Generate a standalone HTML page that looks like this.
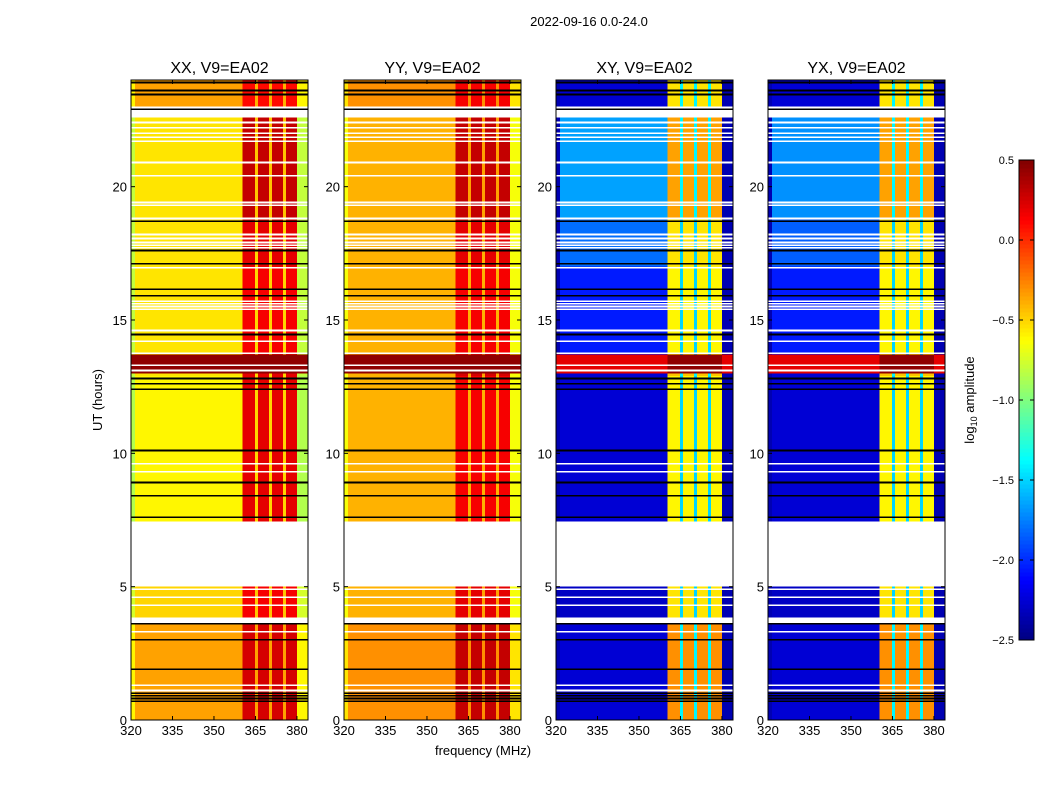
<!DOCTYPE html>
<html><head><meta charset="utf-8"><style>
body{margin:0;background:#fff;}
svg text{font-family:"Liberation Sans",sans-serif;fill:#000;}
</style></head><body>
<svg id="fig" width="1050" height="800" xmlns="http://www.w3.org/2000/svg">
<text x="589" y="26" font-size="13" text-anchor="middle">2022-09-16 0.0-24.0</text>
<text x="102" y="400" font-size="13" text-anchor="middle" transform="rotate(-90 102 400)">UT (hours)</text>
<text x="483" y="755" font-size="13" text-anchor="middle">frequency (MHz)</text>
<g id="panels"></g>
<g id="cbar"></g>
<text x="974" y="400" font-size="13" text-anchor="middle" transform="rotate(-90 974 400)">log<tspan font-size="9" dy="3">10</tspan><tspan dy="-3"> amplitude</tspan></text>
</svg>
<script>
const panelTitles=["XX, V9=EA02","YY, V9=EA02","XY, V9=EA02","YX, V9=EA02"];
const xTicks=[320,335,350,365,380];
const yTicks=[0,5,10,15,20];
const cbTicks=[0.5,0.0,-0.5,-1.0,-1.5,-2.0,-2.5];
const freqEdges=[320,321.5,360.4,364.8,365.9,369.9,371,375,376,380,384];
const colType=['edge','bg','band','gap','band','gap','band','gap','band','edge'];
const timeEdges=[0,3.6,3.85,5.0,7.45,12.9,13.0,13.7,17.0,18.8,22.6,23.0,24];
const bgXX=[-0.35,null,-0.5,null,-0.6,-0.55,0.45,-0.55,-0.55,-0.55,null,-0.35];
const bandXX=[0.25,null,0.15,null,0.2,0.2,0.45,0.15,0.2,0.3,null,0.1];
const gapXX=[-0.35,null,-0.45,null,-0.5,-0.5,0.45,-0.5,-0.5,-0.45,null,-0.4];
const bgYY=[-0.3,null,-0.4,null,-0.4,-0.4,0.45,-0.4,-0.4,-0.4,null,-0.3];
const bandYY=[0.3,null,0.2,null,0.15,0.25,0.45,0.15,0.2,0.3,null,0.15];
const gapYY=[-0.3,null,-0.35,null,-0.4,-0.35,0.45,-0.4,-0.4,-0.35,null,-0.3];
const bgXY=[-2.25,null,-2.3,null,-2.25,-2.25,0.2,-2.05,-1.8,-1.65,null,-2.25];
const bandXY=[-0.3,null,-0.55,null,-0.6,-0.45,0.45,-0.6,-0.55,-0.35,null,-0.55];
const gapXY=[-1.4,null,-1.5,null,-1.5,-1.4,0.45,-1.5,-1.5,-1.4,null,-1.4];
const bgYX=[-2.25,null,-2.3,null,-2.25,-2.25,0.2,-2.05,-1.85,-1.7,null,-2.25];
const bandYX=[-0.3,null,-0.55,null,-0.6,-0.45,0.45,-0.6,-0.55,-0.35,null,-0.55];
const gapYX=[-1.4,null,-1.5,null,-1.5,-1.4,0.45,-1.5,-1.5,-1.4,null,-1.4];
const whiteRows=[22.4,22.2,22.0,21.85,21.7,20.9,20.4,19.4,19.3,18.8,18.2,18.05,17.9,17.8,17.7,17.1,16.95,15.7,15.6,15.5,15.4,14.6,14.2,13.75,13.3,13.1,9.6,9.3,4.9,4.6,4.3,3.8,3.3,1.3,1.1];
const blackRows=[23.9,23.6,23.45,22.9,18.7,17.6,17.1,16.15,15.9,14.45,12.8,12.6,12.4,10.1,8.9,8.4,7.6,3.6,3.0,1.9,1.0,0.9,0.8,0.7];
const panelData=[[bgXX,bandXX,gapXX],[bgYY,bandYY,gapYY],[bgXY,bandXY,gapXY],[bgYX,bandYX,gapYX]];
const panelX=[131,344,556,768];
const PW=177,PT=80,PB=720;
const NS='http://www.w3.org/2000/svg';
function jet(v){
  let t=(v+2.5)/3; t=Math.max(0,Math.min(1,t));
  const f=(x)=>Math.max(0,Math.min(1,1.5-Math.abs(4*t-x)));
  return `rgb(${Math.round(255*f(3))},${Math.round(255*f(2))},${Math.round(255*f(1))})`;
}
function mk(tag,attrs,parent){const e=document.createElementNS(NS,tag);for(const k in attrs)e.setAttribute(k,attrs[k]);parent.appendChild(e);return e;}
const yS=(h)=>PB-(h/24)*(PB-PT);
const panels=document.getElementById('panels');
panelX.forEach((x0,p)=>{
  const xS=(f)=>x0+(f-320)/64*PW;
  const g=mk('g',{'shape-rendering':'crispEdges'},panels);
  
  
  const [bg,band,gap]=panelData[p];
  for(let s=0;s<timeEdges.length-1;s++){
    if(bg[s]===null)continue;
    for(let c=0;c<colType.length;c++){
      let v=colType[c]==='band'?band[s]:colType[c]==='gap'?gap[s]:bg[s];
      if(colType[c]==='edge'&&s!==6) v=p<2?bg[s]-0.25:-2.35;
      const r=mk('rect',{x:xS(freqEdges[c]),y:yS(timeEdges[s+1]),width:xS(freqEdges[c+1])-xS(freqEdges[c]),height:yS(timeEdges[s])-yS(timeEdges[s+1]),fill:jet(v)},g);
      
      
    }
  }
  whiteRows.forEach(h=>{const l=mk('rect',{x:x0,y:yS(h)-1,width:PW,height:1.6,fill:'#fff'},g);
    
    });
  blackRows.forEach(h=>{const l=mk('rect',{x:x0,y:yS(h)-1,width:PW,height:1.6,fill:'#000'},g);
    
    });
  const fr=mk('rect',{x:x0,y:PT,width:PW,height:PB-PT,fill:'none',stroke:'#000','stroke-width':1},g);
  
  
  const t=mk('text',{x:x0+PW/2,y:PT-7,'font-size':16,'text-anchor':'middle'},panels);
  t.textContent=panelTitles[p];
  
  
  xTicks.forEach(f=>{const tx=mk('text',{x:xS(f),y:PB+15,'font-size':13,'text-anchor':'middle'},panels);tx.textContent=f;
    
    
    mk('line',{x1:xS(f),x2:xS(f),y1:PB,y2:PB-4,stroke:'#000'},panels);
    mk('line',{x1:xS(f),x2:xS(f),y1:PT,y2:PT+4,stroke:'#000'},panels);});
  yTicks.forEach(h=>{const ty=mk('text',{x:x0-4,y:yS(h)+5,'font-size':13,'text-anchor':'end'},panels);ty.textContent=h;
    
    
    mk('line',{x1:x0,x2:x0+4,y1:yS(h),y2:yS(h),stroke:'#000'},panels);
    mk('line',{x1:x0+PW,x2:x0+PW-4,y1:yS(h),y2:yS(h),stroke:'#000'},panels);});
});
const cb=document.getElementById('cbar');
const CX=1019,CW=15,CT=160,CB=640;
const cyS=(v)=>CB-(v+2.5)/3*(CB-CT);
for(let i=0;i<120;i++){const v0=-2.5+i*3/120;
  const r=mk('rect',{x:CX,y:cyS(v0+3/120),width:CW,height:(CB-CT)/120+0.5,fill:jet(v0+1.5/120)},cb);
  
  }
mk('rect',{x:CX,y:CT,width:CW,height:CB-CT,fill:'none',stroke:'#000'},cb);
cbTicks.forEach(v=>{const t=mk('text',{x:CX-5,y:cyS(v)+4,'font-size':11,'text-anchor':'end'},cb);
  t.textContent=(v<0?'\u2212':'')+Math.abs(v).toFixed(1);
  
  
  mk('line',{x1:CX,x2:CX+4,y1:cyS(v),y2:cyS(v),stroke:'#000'},cb);
  mk('line',{x1:CX+CW,x2:CX+CW-4,y1:cyS(v),y2:cyS(v),stroke:'#000'},cb);});
</script>
</body></html>
